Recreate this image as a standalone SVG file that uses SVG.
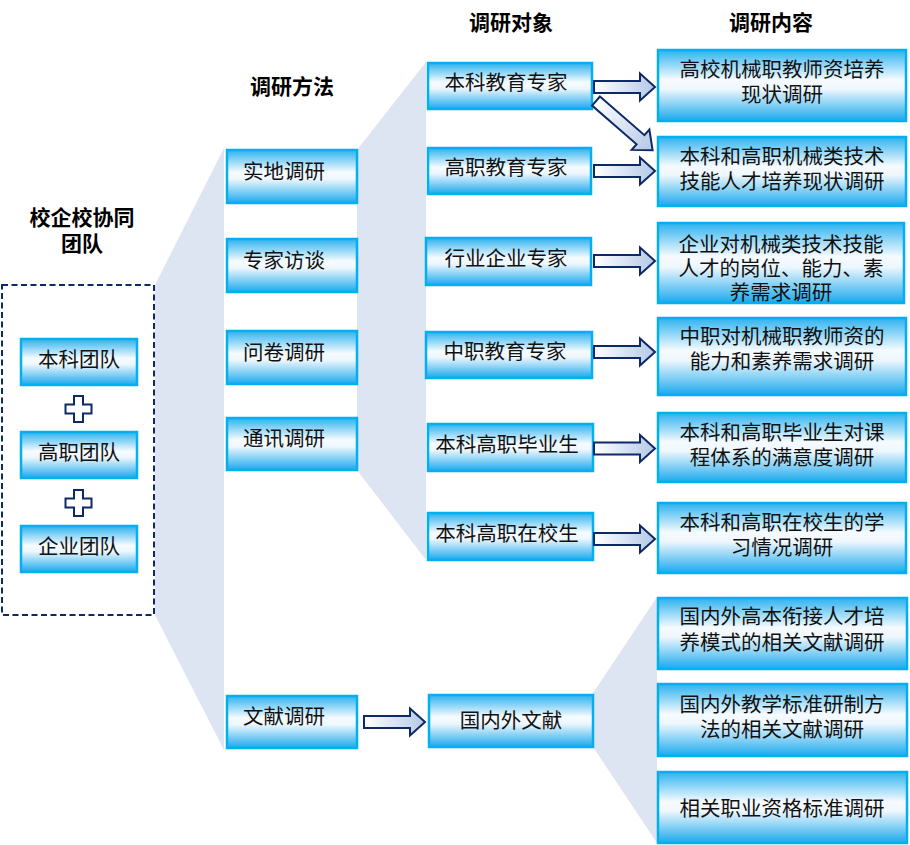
<svg xmlns="http://www.w3.org/2000/svg" width="910" height="845" viewBox="0 0 910 845">
<defs>
<linearGradient id="bg" x1="0" y1="0" x2="0" y2="1">
<stop offset="0" stop-color="#2EB2EF"/>
<stop offset="0.42" stop-color="#F6FBFF"/>
<stop offset="0.55" stop-color="#EEF7FE"/>
<stop offset="1" stop-color="#1AA9EC"/>
</linearGradient>
<linearGradient id="ag" x1="0" y1="0" x2="1" y2="0">
<stop offset="0" stop-color="#FFFFFF"/>
<stop offset="1" stop-color="#B4C8E6"/>
</linearGradient>
<path id="arr" d="M0,-6 H46 V-13.5 L61,0 L46,13.5 V6 H0 Z"/>
</defs>
<style>
.box{fill:url(#bg);stroke:#00B0F0;stroke-width:2.5}
.t{font-family:"Liberation Sans","Noto Sans CJK SC",sans-serif;font-size:20.5px;fill:#111;text-anchor:middle}
.h{font-family:"Liberation Sans","Noto Sans CJK SC",sans-serif;font-size:21px;font-weight:bold;fill:#000;text-anchor:middle}
.band{fill:#DCE5F1}
.arrow{fill:url(#ag);stroke:#0E2A66;stroke-width:2;stroke-linejoin:miter}
.plus{fill:#fff;stroke:#0E2A66;stroke-width:2}
</style>
<rect width="910" height="845" fill="#fff"/>
<g id="bands">
<polygon class="band" points="155,285 224,148 224,750 155,615"/>
<polygon class="band" points="357,150 426,62 426,560 357,470"/>
<polygon class="band" points="593,693 657,597 657,843 593,747"/>
</g>
<g id="headers">
<text class="h" x="292" y="94">调研方法</text>
<text class="h" x="511" y="30">调研对象</text>
<text class="h" x="771" y="30">调研内容</text>
</g>
<g id="team">
<text class="h" x="82" y="225" font-size="22">校企校协同<tspan x="82" dy="26">团队</tspan></text>
<rect x="2" y="285" width="152" height="330" fill="none" stroke="#0E2A66" stroke-width="2" stroke-dasharray="6,3.5"/>
<g id="team-bk"><rect class="box" x="21" y="339" width="116" height="46"/><text class="t" x="79" y="367">本科团队</text></g>
<path class="plus" d="M74,396 h9 v8.5 h8.5 v9 h-8.5 v8.5 h-9 v-8.5 h-8.5 v-9 h8.5 Z"/>
<g id="team-gz"><rect class="box" x="21" y="432" width="116" height="46"/><text class="t" x="79" y="460">高职团队</text></g>
<path class="plus" d="M74,490 h9 v8.5 h8.5 v9 h-8.5 v8.5 h-9 v-8.5 h-8.5 v-9 h8.5 Z"/>
<g id="team-qy"><rect class="box" x="21" y="526" width="116" height="46"/><text class="t" x="79" y="554">企业团队</text></g>
</g>
<g id="m1"><rect class="box" x="227" y="150" width="130" height="53"/><text class="t" x="284" y="179">实地调研</text></g>
<g id="m2"><rect class="box" x="227" y="239" width="130" height="53"/><text class="t" x="284" y="268">专家访谈</text></g>
<g id="m3"><rect class="box" x="227" y="331" width="130" height="53"/><text class="t" x="284" y="360">问卷调研</text></g>
<g id="m4"><rect class="box" x="227" y="418" width="130" height="52"/><text class="t" x="284" y="446">通讯调研</text></g>
<g id="m5"><rect class="box" x="227" y="696" width="130" height="52"/><text class="t" x="284" y="724">文献调研</text></g>
<g id="o1"><rect class="box" x="428" y="63" width="164" height="46"/><text class="t" x="506" y="90">本科教育专家</text></g>
<g id="o2"><rect class="box" x="428" y="148" width="163" height="46"/><text class="t" x="506" y="175">高职教育专家</text></g>
<g id="o3"><rect class="box" x="426" y="238" width="165" height="47"/><text class="t" x="506" y="266">行业企业专家</text></g>
<g id="o4"><rect class="box" x="426" y="332" width="166" height="46"/><text class="t" x="505" y="359">中职教育专家</text></g>
<g id="o5"><rect class="box" x="428" y="424" width="165" height="47"/><text class="t" x="507" y="452">本科高职毕业生</text></g>
<g id="o6"><rect class="box" x="428" y="513" width="165" height="47"/><text class="t" x="507" y="541">本科高职在校生</text></g>
<g id="o7"><rect class="box" x="429" y="695" width="164" height="52"/><text class="t" x="511" y="728">国内外文献</text></g>
<g id="c1"><rect class="box" x="658" y="50" width="248" height="71"/><text class="t" x="782" y="77">高校机械职教师资培养<tspan x="782" dy="25">现状调研</tspan></text></g>
<g id="c2"><rect class="box" x="658" y="137" width="248" height="69"/><text class="t" x="782" y="164">本科和高职机械类技术<tspan x="782" dy="25">技能人才培养现状调研</tspan></text></g>
<g id="c3"><rect class="box" x="658" y="223" width="246" height="80"/><text class="t" x="781" y="252">企业对机械类技术技能<tspan x="781" dy="24">人才的岗位、能力、素</tspan><tspan x="781" dy="23.5">养需求调研</tspan></text></g>
<g id="c4"><rect class="box" x="658" y="318" width="248" height="77"/><text class="t" x="782" y="344">中职对机械职教师资的<tspan x="782" dy="25">能力和素养需求调研</tspan></text></g>
<g id="c5"><rect class="box" x="658" y="413" width="248" height="69"/><text class="t" x="782" y="440">本科和高职毕业生对课<tspan x="782" dy="25">程体系的满意度调研</tspan></text></g>
<g id="c6"><rect class="box" x="658" y="503" width="248" height="70"/><text class="t" x="782" y="530">本科和高职在校生的学<tspan x="782" dy="25">习情况调研</tspan></text></g>
<g id="c7"><rect class="box" x="658" y="598" width="249" height="71"/><text class="t" x="782" y="624">国内外高本衔接人才培<tspan x="782" dy="26">养模式的相关文献调研</tspan></text></g>
<g id="c8"><rect class="box" x="658" y="684" width="249" height="72"/><text class="t" x="782" y="712">国内外教学标准研制方<tspan x="782" dy="25">法的相关文献调研</tspan></text></g>
<g id="c9"><rect class="box" x="658" y="772" width="249" height="71"/><text class="t" x="782" y="816">相关职业资格标准调研</text></g>
<g id="connectors">
<use href="#arr" class="arrow" transform="translate(594,87)"/>
<path class="arrow" d="M0,-6 H59 V-13.5 L75,0 L59,13.5 V6 H0 Z" transform="translate(596,101) rotate(41)"/>
<use href="#arr" class="arrow" transform="translate(594,171)"/>
<use href="#arr" class="arrow" transform="translate(594,261)"/>
<use href="#arr" class="arrow" transform="translate(594,352)"/>
<use href="#arr" class="arrow" transform="translate(594,448.5)"/>
<use href="#arr" class="arrow" transform="translate(594,539)"/>
<use href="#arr" class="arrow" transform="translate(364,722)"/>
</g>
</svg>
